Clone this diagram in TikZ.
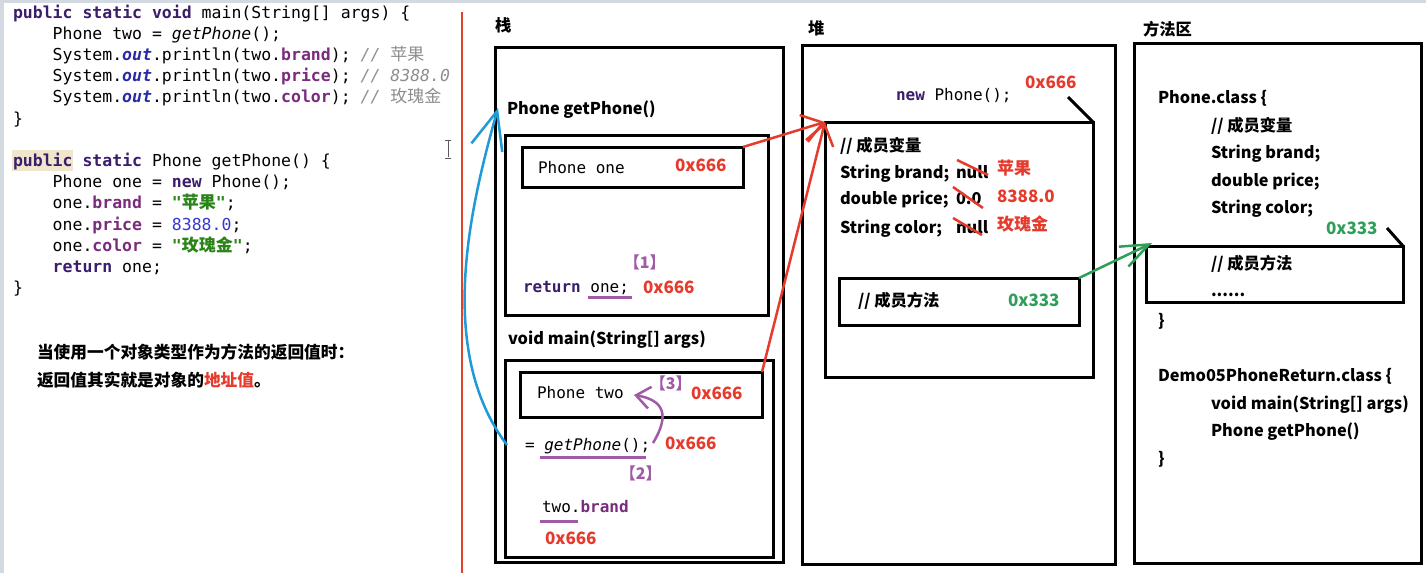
\documentclass[tikz,border=0pt]{standalone}
\usepackage{fontspec}
\usetikzlibrary{arrows.meta}
\newfontfamily\cjk{Noto Sans CJK SC}
\newfontfamily\mono{DejaVu Sans Mono}

\definecolor{kwc}{HTML}{3A1E6C}
\definecolor{fldc}{HTML}{7A2C7C}
\definecolor{outc}{HTML}{2A2AA6}
\definecolor{cmc}{HTML}{8E8E8E}
\definecolor{strc}{HTML}{2A8417}
\definecolor{numc}{HTML}{3838CC}
\definecolor{addr}{HTML}{E53A2C}
\definecolor{meth}{HTML}{2E9E58}
\definecolor{callblue}{HTML}{1E9BD7}
\definecolor{stepc}{HTML}{A05AA6}
\definecolor{hlc}{HTML}{EFE6CB}
\definecolor{edgec}{HTML}{D3D9E1}
\definecolor{divider}{HTML}{E0412F}

% Java syntax colouring
\newcommand\jkw[1]{{\bfseries\color{kwc}#1}}
\newcommand\jfd[1]{{\bfseries\color{fldc}#1}}
\newcommand\jout[1]{{\bfseries\itshape\color{outc}#1}}
\newcommand\jcm[1]{{\itshape\color{cmc}#1}}
\newcommand\jstr[1]{{\bfseries\color{strc}#1}}
\newcommand\jnum[1]{{\color{numc}#1}}
\newcommand\jzh[1]{{\cjk\fontsize{17}{20}\selectfont\upshape #1}}
% step marker: full-width brackets trimmed to their ink
\newcommand\stepno[1]{\kern-0.45em【#1】\kern-0.45em}

\tikzset{
  frame/.style={draw=black, line width=3pt, inner sep=0pt, outer sep=0pt, anchor=north west},
  txt/.style={inner sep=0pt, outer sep=0pt, anchor=base west},
  lbl/.style={txt, font=\cjk\bfseries\fontsize{16.3}{19}\selectfont},
  notetxt/.style={txt, font=\cjk\bfseries\fontsize{16.7}{19}\selectfont},
  codetxt/.style={txt, font=\mono\fontsize{16.5}{20}\selectfont},
  memtxt/.style={txt, font=\mono\fontsize{16}{19}\selectfont},
  addrtxt/.style={txt, font=\cjk\bfseries\fontsize{17}{20}\selectfont, text=addr},
  methaddr/.style={addrtxt, text=meth},
  steptxt/.style={txt, font=\cjk\bfseries\fontsize{16}{18}\selectfont, text=stepc},
  underl/.style={draw=stepc, line width=3pt},
  strike/.style={draw=addr, line width=2.5pt},
  refarrow/.style={draw=addr, line width=2.5pt, -{Straight Barb[length=20pt,width=28pt]}},
  callarrow/.style={draw=callblue, line width=2.5pt, -{Straight Barb[length=38pt,width=32pt]}},
  metharrow/.style={draw=meth, line width=2.5pt, -{Straight Barb[length=28pt,width=22pt]}},
  steparrow/.style={draw=stepc, line width=2.5pt, -{Straight Barb[length=14pt,width=22pt]}},
}

\begin{document}
\begin{tikzpicture}[x=1pt, y=-1pt]
\useasboundingbox (0,0) rectangle (1426,573);
\fill[white] (0,0) rectangle (1426,573);
\fill[edgec] (0,0) rectangle (1426,3);
\fill[edgec] (0,0) rectangle (4,573);

% ---------------- source code ----------------
\fill[hlc] (12,150) rectangle (73,171);
\node[codetxt] (c1) at (13,18.5) {\jkw{public static void} main(String[] args) \{};
\node[codetxt] (c2) at (52.7,39.6) {Phone two = {\itshape getPhone}();};
\node[codetxt] (c3) at (52.7,60.7) {System.\jout{out}.println(two.\jfd{brand}); \jcm{// \jzh{苹果}}};
\node[codetxt] (c4) at (52.7,81.8) {System.\jout{out}.println(two.\jfd{price}); \jcm{// 8388.0}};
\node[codetxt] (c5) at (52.7,102.9) {System.\jout{out}.println(two.\jfd{color}); \jcm{// \jzh{玫瑰金}}};
\node[codetxt] (c6) at (13,124) {\}};

\node[codetxt] (d1) at (13,166.7) {\jkw{public static} Phone getPhone() \{};
\node[codetxt] (d2) at (52.7,187.8) {Phone one = \jkw{new} Phone();};
\node[codetxt] (d3) at (52.7,208.9) {one.\jfd{brand} = \jstr{"\jzh{苹果}"};};
\node[codetxt] (d4) at (52.7,230) {one.\jfd{price} = \jnum{8388.0};};
\node[codetxt] (d5) at (52.7,251.1) {one.\jfd{color} = \jstr{"\jzh{玫瑰金}"};};
\node[codetxt] (d6) at (52.7,272.2) {\jkw{return} one;};
\node[codetxt] (d7) at (13,293.3) {\}};

% text cursor
\draw[black!65, line width=1pt] (448,141) -- (448,157) (445,140) -- (451,140) (445,158) -- (451,158);

\node[notetxt] (note1) at (37,358) {当使用一个对象类型作为方法的返回值时：};
\node[notetxt] (note2) at (37,386) {返回值其实就是对象的\textcolor{addr}{地址值}。};

% divider
\draw[divider, line width=2.5pt] (462,12) -- (462,573);

% ---------------- stack ----------------
\node[lbl] (stackT) at (495,31) {栈};
\node[frame, minimum width=288pt, minimum height=515pt] (stack) at (495,47) {};
\node[lbl] (getT) at (507,114) {Phone getPhone()};
\node[frame, minimum width=263pt, minimum height=180pt] (getFrame) at (505,135) {};
\node[frame, minimum width=221pt, minimum height=40pt] (oneBox) at (522,147) {};
\node[memtxt] (oneVar) at (538,173) {Phone one};
\node[addrtxt] (oneAddr) at (675,171) {0x666};
\node[steptxt] (step1) at (631,268) {\stepno{1}};
\node[memtxt] (retT) at (523,292) {\jkw{return} one;};
\node[addrtxt] (retAddr) at (643,293) {0x666};
\draw[underl] (588,297) -- (632,297);

\node[lbl] (mainT) at (508,344) {void main(String[] args)};
\node[frame, minimum width=268pt, minimum height=197pt] (mainFrame) at (505,360) {};
\node[frame, minimum width=242pt, minimum height=45pt] (twoBox) at (520,372) {};
\node[memtxt] (twoVar) at (537,398) {Phone two};
\node[steptxt] (step3) at (657,389) {\stepno{3}};
\node[addrtxt] (twoAddr) at (691,399) {0x666};
\node[memtxt] (callT) at (525,450) {= {\itshape getPhone}();};
\node[addrtxt] (callAddr) at (665,449) {0x666};
\draw[underl] (540,457) -- (646,457);
\node[steptxt] (step2) at (627,479) {\stepno{2}};
\node[memtxt] (useT) at (542,512) {two.\jfd{brand}};
\draw[underl] (540,521) -- (578,521);
\node[addrtxt] (useAddr) at (545,544) {0x666};

% ---------------- heap ----------------
\node[lbl] (heapT) at (808,34) {堆};
\node[frame, minimum width=313pt, minimum height=519pt] (heap) at (802,45) {};
\node[memtxt] (newT) at (896,100) {\jkw{new} Phone();};
\node[addrtxt] (newAddr) at (1025,88) {0x666};
\node[frame, minimum width=268pt, minimum height=255pt] (heapIn) at (825,122) {};
\coordinate (heapTick) at (1068,97);
\draw[line width=3pt] (heapTick) -- (heapIn.north east);
\node[lbl] (fieldsT) at (840,151) {// 成员变量};
\node[lbl] (brandT) at (840,178) {String brand;};
\node[lbl] (brandOld) at (956,178) {null};
\node[addrtxt] (brandNew) at (997,174) {苹果};
\node[lbl] (priceT) at (840,204) {double price;};
\node[lbl] (priceOld) at (956,204) {0.0};
\node[addrtxt] (priceNew) at (997,202) {8388.0};
\node[lbl] (colorT) at (840,233) {String color;};
\node[lbl] (colorOld) at (956,233) {null};
\node[addrtxt] (colorNew) at (997,230) {玫瑰金};
\draw[strike] (957,160) -- (988,175);
\draw[strike] (953,187) -- (983,208);
\draw[strike] (953,218) -- (982,235);
\node[frame, minimum width=240pt, minimum height=47pt] (methBox) at (839,278) {};
\node[lbl] (methT) at (858,306) {// 成员方法};
\node[methaddr] (methAddr) at (1008,306) {0x333};

% ---------------- method area ----------------
\node[lbl] (areaT) at (1143,35) {方法区};
\node[frame, minimum width=287pt, minimum height=520pt] (area) at (1134,43) {};
\node[lbl] (cls1) at (1158,103) {Phone.class \{};
\node[lbl] (cls2) at (1211,131) {// 成员变量};
\node[lbl] (cls3) at (1211,158) {String brand;};
\node[lbl] (cls4) at (1211,186) {double price;};
\node[lbl] (cls5) at (1211,213) {String color;};
\node[methaddr] (clsAddr) at (1326,234) {0x333};
\node[frame, minimum width=257pt, minimum height=56pt] (classMeth) at (1146,246) {};
\coordinate (areaTick) at (1387,228);
\draw[line width=3pt] (areaTick) -- (classMeth.north east);
\node[lbl] (cls6) at (1211,269) {// 成员方法};
\node[lbl] (cls7) at (1211,296) {......};
\node[lbl] (cls8) at (1158,326) {\}};
\node[lbl] (demo1) at (1158,381) {Demo05PhoneReturn.class \{};
\node[lbl] (demo2) at (1211,409) {void main(String[] args)};
\node[lbl] (demo3) at (1211,436) {Phone getPhone()};
\node[lbl] (demo4) at (1158,464) {\}};

% ---------------- connectors ----------------
\draw[refarrow] (oneBox.north east) -- (heapIn.north west);
\draw[refarrow] (twoBox.north east) -- (heapIn.north west);
\coordinate (callFrom) at (507,445);
\coordinate (callTo) at (498,108);
\draw[callarrow] (callFrom) .. controls (435,350) and (471,204) .. (callTo);
\coordinate (greenTip) at (1152,243);
\draw[metharrow] (methBox.north east) -- (greenTip);
\coordinate (assignFrom) at (653,443);
\coordinate (assignTo) at (634,395);
\draw[steparrow] (assignFrom) .. controls (670,415) and (664,400) .. (assignTo);
\end{tikzpicture}
\end{document}
